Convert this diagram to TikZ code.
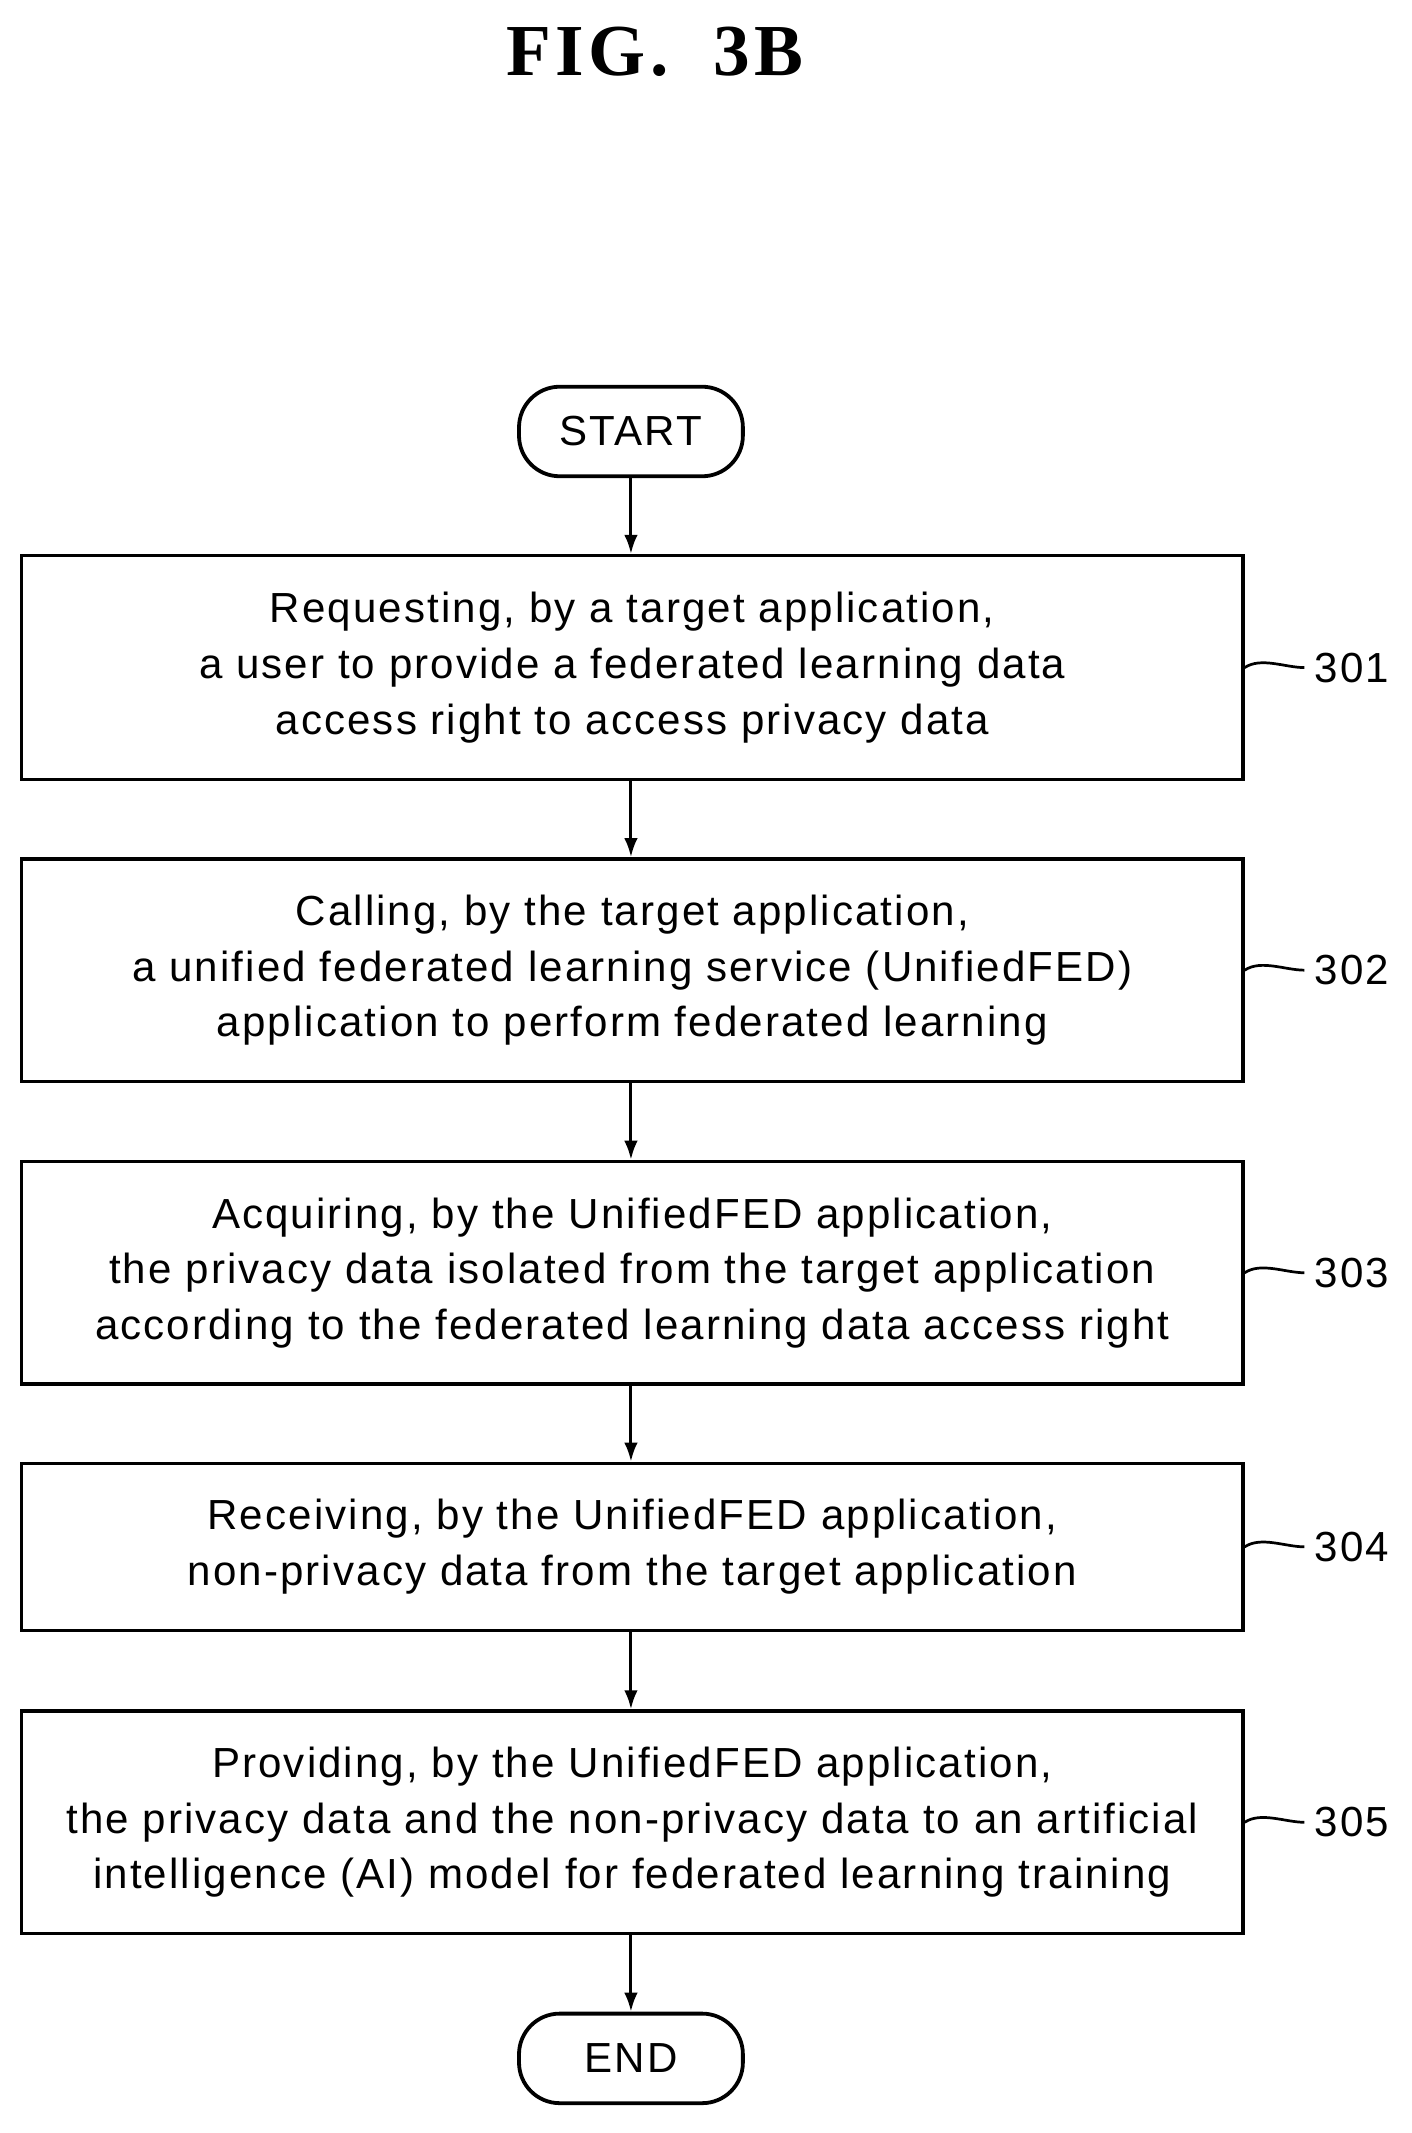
\documentclass[tikz,border=0pt]{standalone}
\usepackage{fontspec}
\setmainfont{Liberation Sans}[LetterSpace=5]
\newfontfamily\titlefont{Liberation Serif}[LetterSpace=6]
\usetikzlibrary{arrows.meta}
\begin{document}
\begin{tikzpicture}[x=1pt,y=-1pt,
 box/.style={draw,line width=2.6pt,minimum width=900pt,align=center,inner sep=0pt,font=\fontsize{31}{41}\selectfont},
 term/.style={draw,line width=2.8pt,rounded corners=30pt,minimum width=165pt,minimum height=66pt,font=\fontsize{31}{36}\selectfont},
 arr/.style={line width=2.2pt,-{Latex[length=14pt,width=10pt]}},
 lab/.style={font=\fontsize{31}{36}\selectfont,anchor=west}]
\useasboundingbox (0,0) rectangle (1040,1572);
\node[font=\titlefont\bfseries\fontsize{54}{60}\selectfont] (t) at (483,38) {FIG.\ \ 3B};
\node[term] (s) at (465,318) {START};
\node[box,minimum height=165pt] (b1) at (466,492) {Requesting, by a target application,\\a user to provide a federated learning data\\access right to access privacy data};
\node[box,minimum height=164pt] (b2) at (466,715) {Calling, by the target application,\\a unified federated learning service (UnifiedFED)\\application to perform federated learning};
\node[box,minimum height=164pt] (b3) at (466,938) {Acquiring, by the UnifiedFED application,\\the privacy data isolated from the target application\\according to the federated learning data access right};
\node[box,minimum height=123pt] (b4) at (466,1140) {Receiving, by the UnifiedFED application,\\non-privacy data from the target application};
\node[box,minimum height=164pt] (b5) at (466,1343) {Providing, by the UnifiedFED application,\\the privacy data and the non-privacy data to an artificial\\intelligence (AI) model for federated learning training};
\node[term] (e) at (465,1517) {END};
\draw[arr] (s) -- (b1.north -| s);
\draw[arr] (b1.south -| s) -- (b2.north -| s);
\draw[arr] (b2.south -| s) -- (b3.north -| s);
\draw[arr] (b3.south -| s) -- (b4.north -| s);
\draw[arr] (b4.south -| s) -- (b5.north -| s);
\draw[arr] (b5.south -| s) -- (e);
\foreach \b/\n in {b1/301,b2/302,b3/303,b4/304,b5/305}{
  \coordinate (c\n) at ([xshift=44pt]\b.east);
  \draw[line width=2pt] (\b.east) .. controls +(12,-8) and +(-14,0) .. (c\n);
  \node[lab] (l\n) at ([xshift=4pt]c\n) {\n};
}
\end{tikzpicture}
\end{document}
